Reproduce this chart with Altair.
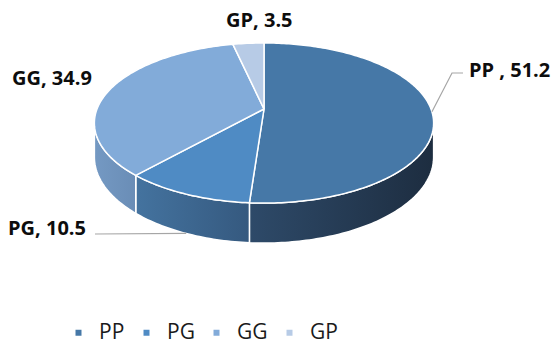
import numpy as np
import pandas as pd
import altair as alt

# ---- data ----
categories = ["PP", "PG", "GG", "GP"]
values = [51.2, 10.5, 34.9, 3.5]
label_seps = [" , ", ", ", ", ", ", "]

# ---- style / layout ----
top_colors = ["#4678a7", "#4f8bc4", "#82abd9", "#b7cbe6"]
side_gradients = {
    "PP": ["#2e4a69", "#1d2d40"],
    "PG": ["#44739f", "#35597f"],
    "GG": ["#7499c3", "#6a8db6"],
}
W, H = 555, 344
CX, CY = 264.0, 109.0      # projected pie centre
RX, RY = 167.0, 77.6       # radii
K = 0.175                  # perspective factor
DEPTH = 33.0               # thickness
LABEL_POS = {"PP": (469, 77), "PG": (8, 235), "GG": (12, 85), "GP": (226, 27)}
LEADER_MID = {"PP": [(452, 73), (463, 73)], "PG": [(95, 234)]}
LEADER_DROP = {"PP": 0.0, "PG": DEPTH}


def rim(theta, drop=0.0):
    X, Z = np.sin(theta), np.cos(theta)
    w = 1 + K * Z
    return CX + RX * X / w, CY - RY * Z / w + drop / w


total = sum(values)
fr = np.array(values) / total
ends = np.cumsum(fr) * 2 * np.pi
starts = ends - fr * 2 * np.pi

# top faces
top_rows = []
for c, a0, a1 in zip(categories, starts, ends):
    n = max(6, int(np.degrees(a1 - a0)))
    pts = [(CX, CY)]
    for t in np.linspace(a0, a1, n):
        pts.append(rim(t))
    pts.append((CX, CY))
    for i, (x, y) in enumerate(pts):
        top_rows.append({"cat": c, "i": i, "x": x, "y": y})
top_df = pd.DataFrame(top_rows)

# visible sides
v0 = np.arccos(-K)
v1 = 2 * np.pi - v0
side_rows = []
for c, a0, a1 in zip(categories, starts, ends):
    s, e = max(a0, v0), min(a1, v1)
    if e <= s:
        continue
    n = max(6, int(np.degrees(e - s)))
    ts = np.linspace(s, e, n)
    pts = [rim(t) for t in ts] + [rim(t, DEPTH) for t in ts[::-1]] + [rim(ts[0])]
    for i, (x, y) in enumerate(pts):
        side_rows.append({"cat": c, "i": i, "x": x, "y": y})
side_df = pd.DataFrame(side_rows)

# labels
lab_rows = []
for c, v, sep in zip(categories, values, label_seps):
    lx, ly = LABEL_POS[c]
    lab_rows.append({"cat": c, "text": f"{c}{sep}{v}", "x": lx, "y": ly})
lab_df = pd.DataFrame(lab_rows)

# leader lines
lead_rows = []
for c, a0, a1 in zip(categories, starts, ends):
    if c not in LEADER_MID:
        continue
    mid = (a0 + a1) / 2
    pts = [rim(mid, LEADER_DROP[c])] + LEADER_MID[c]
    for i, (x, y) in enumerate(pts):
        lead_rows.append({"cat": c, "i": i, "x": x, "y": y})
lead_df = pd.DataFrame(lead_rows)

xs = alt.X("x:Q", scale=alt.Scale(domain=[0, W], nice=False, zero=False), axis=None)
ys = alt.Y("y:Q", scale=alt.Scale(domain=[0, H], nice=False, zero=False, reverse=True), axis=None)

layers = []
for c in categories:
    if c not in side_gradients:
        continue
    sub = side_df[side_df["cat"] == c]
    if sub.empty:
        continue
    g = side_gradients[c]
    layers.append(
        alt.Chart(sub).mark_line(
            fill=alt.Gradient(gradient="linear", x1=0, x2=1, y1=0, y2=0,
                              stops=[alt.GradientStop(color=g[0], offset=0),
                                     alt.GradientStop(color=g[1], offset=1)]),
            stroke="white", strokeWidth=1.5, strokeJoin="round",
        ).encode(x=xs, y=ys, order=alt.Order("i:Q"))
    )

top = alt.Chart(top_df).mark_line(
    stroke="white", strokeWidth=1.5, strokeJoin="round"
).encode(
    x=xs, y=ys, order=alt.Order("i:Q"),
    fill=alt.Fill(
        "cat:N",
        scale=alt.Scale(domain=categories, range=top_colors),
        sort=categories,
        legend=alt.Legend(
            title=None, orient="none", direction="horizontal",
            legendX=68, legendY=322, padding=0,
            symbolType="square", symbolSize=36, symbolStrokeWidth=0,
            labelFont="Open Sans", labelFontSize=21, labelColor="#1a1a1a",
            labelOffset=10, columnPadding=11, labelLimit=100,
        ),
    ),
    detail="cat:N",
)
layers.append(top)

leaders = alt.Chart(lead_df).mark_line(color="#a6a6a6", strokeWidth=1.2).encode(
    x=xs, y=ys, order=alt.Order("i:Q"), detail="cat:N"
)
layers.append(leaders)

labels = alt.Chart(lab_df).mark_text(
    align="left", baseline="alphabetic", font="Open Sans", fontSize=20,
    fontWeight="bold", color="#0d0d0d",
).encode(x=xs, y=ys, text="text:N")
layers.append(labels)

chart = alt.layer(*layers).properties(
    width=W, height=H, padding=0, autosize=alt.AutoSizeParams(type="none"),
    background="white",
).configure_view(stroke=None)

chart.save("out.html", embed_options={"renderer": "svg", "actions": False})
